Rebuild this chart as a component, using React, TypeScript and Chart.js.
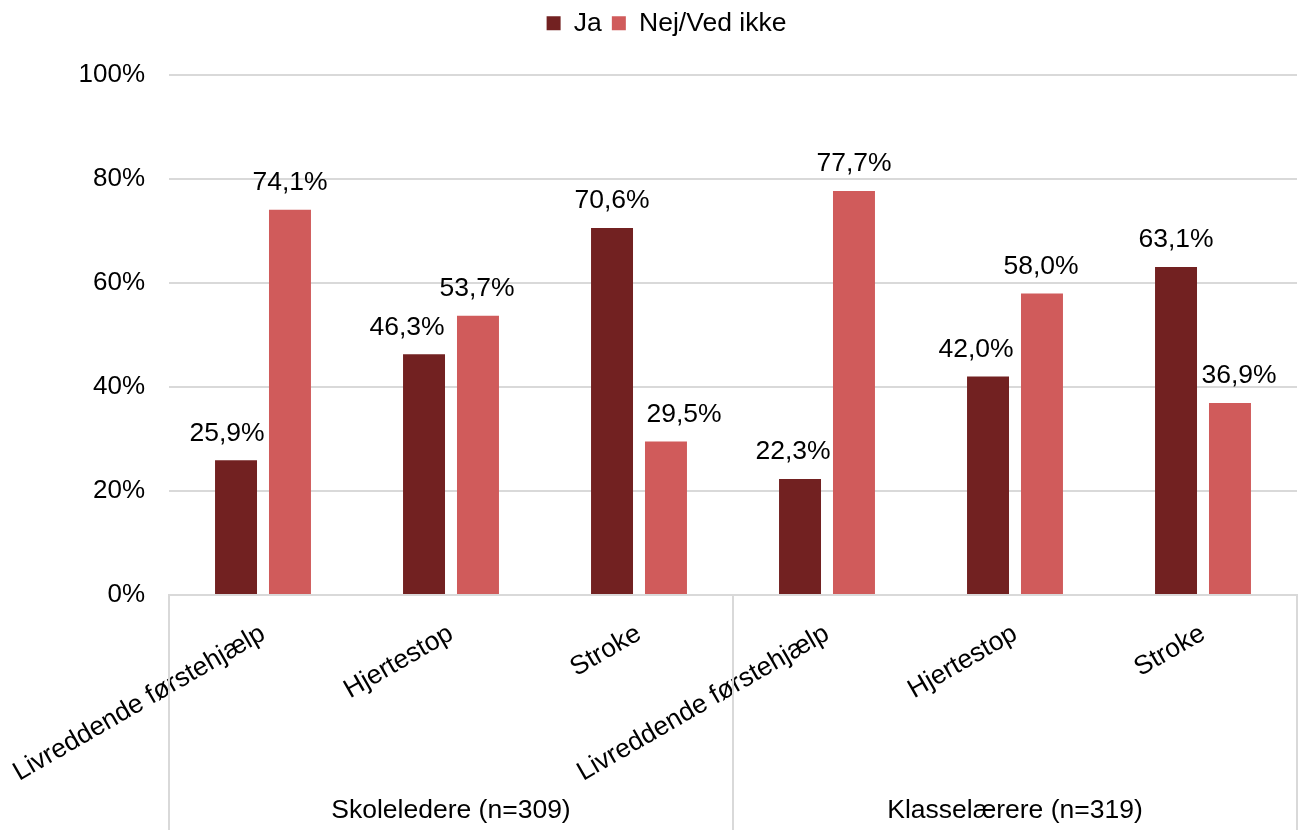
import React, { useEffect, useRef } from "react";
import { Chart, registerables } from "chart.js";

Chart.register(...registerables);

// ---- data ----
const categories = [
  "Livreddende førstehjælp",
  "Hjertestop",
  "Stroke",
  "Livreddende førstehjælp",
  "Hjertestop",
  "Stroke",
];
const groupLabels = ["Skoleledere (n=309)", "Klasselærere (n=319)"];
const groupSizes = [3, 3];
const seriesNames = ["Ja", "Nej/Ved ikke"];
const jaValues = [25.9, 46.3, 70.6, 22.3, 42.0, 63.1];
const nejValues = [74.1, 53.7, 29.5, 77.7, 58.0, 36.9];
const yMin = 0;
const yMax = 100;
const yStep = 20;

// ---- styles ----
const FONT = '"Liberation Sans", Arial, Helvetica, sans-serif';
const FONT_SIZE = 26.5;
const COLOR_JA = "#722121";
const COLOR_NEJ = "#D05B5B";
const GRID = "#D9D9D9";
const labelShift = [
  [-9, -17, 0, -7, -12, 0],
  [0, -1, 18, 0, -1, 9],
];

const fmt = (v: number) => v.toFixed(1).replace(".", ",") + "%";

const dataLabels = {
  id: "dataLabels",
  afterDatasetsDraw(chart: any) {
    const ctx = chart.ctx;
    ctx.save();
    ctx.font = `${FONT_SIZE}px ${FONT}`;
    ctx.fillStyle = "#000";
    ctx.textAlign = "center";
    ctx.textBaseline = "middle";
    chart.data.datasets.forEach((ds: any, di: number) => {
      const meta = chart.getDatasetMeta(di);
      meta.data.forEach((bar: any, i: number) => {
        ctx.fillText(fmt(ds.data[i]), bar.x + labelShift[di][i], bar.y - 27);
      });
    });
    ctx.restore();
  },
};

const groupAxis = {
  id: "groupAxis",
  beforeDraw(chart: any) {
    const lg = chart.legend;
    if (lg && !lg._shifted) {
      lg.left += 18;
      lg.right += 18;
      lg._shifted = true;
    }
  },
  afterDraw(chart: any) {
    const ctx = chart.ctx;
    const xs = chart.scales.x;
    const area = chart.chartArea;
    const top = area.bottom;
    const bottom = chart.height;
    const bounds: number[] = [area.left];
    let idx = 0;
    groupSizes.forEach((n, gi) => {
      idx += n;
      if (gi < groupSizes.length - 1) {
        bounds.push((xs.getPixelForValue(idx - 1) + xs.getPixelForValue(idx)) / 2);
      }
    });
    bounds.push(area.right);
    ctx.save();
    ctx.strokeStyle = GRID;
    ctx.lineWidth = 2;
    bounds.forEach((bx) => {
      ctx.beginPath();
      ctx.moveTo(bx, top);
      ctx.lineTo(bx, bottom);
      ctx.stroke();
    });
    ctx.font = `${FONT_SIZE}px ${FONT}`;
    ctx.fillStyle = "#000";
    ctx.textAlign = "center";
    ctx.textBaseline = "middle";
    groupLabels.forEach((g, gi) => {
      ctx.fillText(g, (bounds[gi] + bounds[gi + 1]) / 2, 811);
    });
    ctx.restore();
  },
};

const legendHeight = {
  id: "legendHeight",
  beforeInit(chart: any) {
    const origFit = chart.legend.fit;
    chart.legend.fit = function () {
      origFit.bind(chart.legend)();
      this.height = 75;
    };
  },
};

export default function App() {
  const ref = useRef<HTMLCanvasElement>(null);
  useEffect(() => {
    if (!ref.current) return;
    const chart = new Chart(ref.current, {
      type: "bar",
      data: {
        labels: categories,
        datasets: [
          {
            label: seriesNames[0],
            data: jaValues,
            backgroundColor: COLOR_JA,
            categoryPercentage: 0.574,
            barPercentage: 0.778,
          },
          {
            label: seriesNames[1],
            data: nejValues,
            backgroundColor: COLOR_NEJ,
            categoryPercentage: 0.574,
            barPercentage: 0.778,
          },
        ],
      },
      options: {
        responsive: false,
        animation: false,
        layout: { padding: { left: 0, right: 2, top: 0, bottom: 0 } },
        plugins: {
          legend: {
            position: "top",
            labels: {
              boxWidth: 14,
              boxHeight: 14,
              padding: 10,
              color: "#000",
              font: { size: FONT_SIZE, family: FONT },
            },
          },
          tooltip: { enabled: false },
        },
        scales: {
          x: {
            grid: { display: false },
            border: { display: true, color: GRID, width: 2 },
            ticks: {
              autoSkip: false,
              minRotation: 30,
              maxRotation: 30,
              padding: 15,
              color: "#000",
              font: { size: FONT_SIZE, family: FONT },
            },
            afterFit: (s: any) => {
              s.height = 235;
              s.paddingLeft = 0;
              s.paddingRight = 0;
            },
          },
          y: {
            min: yMin,
            max: yMax,
            ticks: {
              stepSize: yStep,
              padding: 24,
              color: "#000",
              font: { size: 26, family: FONT },
              callback: (v: any) => `${v}%`,
            },
            grid: { color: GRID, lineWidth: 2, drawTicks: false },
            border: { display: false },
            afterFit: (s: any) => {
              s.width = 169;
            },
          },
        },
      },
      plugins: [dataLabels, groupAxis, legendHeight],
    });
    return () => chart.destroy();
  }, []);
  return (
    <div style={{ position: "absolute", left: 0, top: 0, width: 1299, height: 830, background: "#fff" }}>
      <canvas ref={ref} width={1299} height={830} />
    </div>
  );
}
